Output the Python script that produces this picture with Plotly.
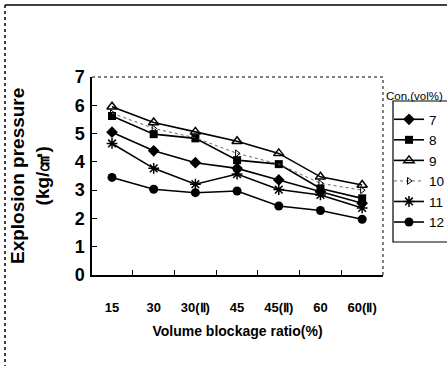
import plotly.graph_objects as go

categories = ["15", "30", "30(Ⅱ)", "45", "45(Ⅱ)", "60", "60(Ⅱ)"]
series_names = ["7", "8", "9", "10", "11", "12"]
s7 = [5.05, 4.39, 3.97, 3.77, 3.36, 2.94, 2.54]
s8 = [5.62, 4.98, 4.83, 4.06, 3.92, 3.06, 2.71]
s9 = [5.95, 5.39, 5.06, 4.73, 4.30, 3.47, 3.18]
s10 = [5.72, 5.18, 4.85, 4.30, 3.92, 3.24, 3.00]
s11 = [4.65, 3.77, 3.21, 3.57, 3.02, 2.83, 2.37]
s12 = [3.45, 3.03, 2.91, 2.97, 2.44, 2.28, 1.97]
y_ticks = [0, 1, 2, 3, 4, 5, 6, 7]

W, H = 447, 366
L, R, T, B = 92, 64, 77, 91
pw, ph = W - L - R, H - T - B

def px(x):
    return (x - L) / pw

def py(y):
    return (H - B - y) / ph

styles = [
    dict(symbol="diamond", size=9, line=dict(width=0)),
    dict(symbol="square", size=8, line=dict(width=0)),
    dict(symbol="triangle-up-open", size=9, line=dict(width=1.5, color="black")),
    dict(symbol="triangle-right-open", size=6, line=dict(width=1, color="#555")),
    dict(symbol="asterisk-open", size=9, line=dict(width=1.5, color="black")),
    dict(symbol="circle", size=9, line=dict(width=0)),
]
data = [s7, s8, s9, s10, s11, s12]

fig = go.Figure()
for name, vals, st in zip(series_names, data, styles):
    dotted = name == "10"
    fig.add_trace(go.Scatter(
        x=categories, y=vals, name=name, mode="lines+markers",
        line=dict(color="#666" if dotted else "black", width=1 if dotted else 1.6,
                  dash="dot" if dotted else "solid"),
        marker=dict(color="black", **st),
    ))

font_main = "Arial, Liberation Sans, sans-serif"

fig.update_layout(
    width=W, height=H,
    margin=dict(l=L, r=R, t=T, b=B, pad=0, autoexpand=False),
    paper_bgcolor="white", plot_bgcolor="white",
    showlegend=True,
    legend=dict(x=px(389), y=py(104), xanchor="left", yanchor="top",
                bgcolor="rgba(0,0,0,0)", borderwidth=0,
                font=dict(family=font_main, size=13.5, color="black"),
                tracegroupgap=0, itemwidth=30),
    xaxis=dict(
        type="category", range=[-0.48, 6.5], showgrid=False, zeroline=False,
        showline=True, linecolor="black", linewidth=1.5,
        ticks="inside", ticklen=5, tickcolor="black", tickson="boundaries",
        ticklabelstandoff=20, tickangle=0,
        tickfont=dict(family=font_main, size=13, color="black", weight="bold"),
        title=dict(text="Volume blockage ratio(%)", standoff=12,
                   font=dict(family=font_main, size=14, color="black", weight="bold")),
    ),
    yaxis=dict(
        range=[0, 7], tickvals=y_ticks, showgrid=False, zeroline=False,
        showline=True, linecolor="black", linewidth=1.5,
        ticks="inside", ticklen=5, tickcolor="black", ticklabelstandoff=2,
        tickfont=dict(family=font_main, size=18, color="black", weight="bold"),
    ),
)

fig.add_annotation(
    text="Explosion pressure<br>(kg/㎠)", textangle=-90, showarrow=False,
    xref="paper", yref="paper", x=px(30), y=0.5, xanchor="center", yanchor="middle",
    font=dict(family=font_main, size=19, color="black", weight="bold"),
)
fig.add_annotation(
    text="Con.(vol%)", showarrow=False, xref="paper", yref="paper",
    x=px(384), y=py(96), xanchor="left", yanchor="middle",
    font=dict(family=font_main, size=11.5, color="black"),
)

# plot frame: dotted top and right
fig.add_shape(type="line", xref="paper", yref="paper", x0=0, x1=1, y0=1, y1=1,
              line=dict(color="black", width=1, dash="dot"))
fig.add_shape(type="line", xref="paper", yref="paper", x0=1, x1=1, y0=0, y1=1,
              line=dict(color="black", width=1, dash="dot"))
# legend box
fig.add_shape(type="rect", xref="paper", yref="paper", x0=px(393), x1=px(452),
              y0=py(242), y1=py(101), line=dict(color="black", width=1.2))
# outer page frame
fig.add_shape(type="line", xref="paper", yref="paper", x0=px(5), x1=px(450),
              y0=py(5), y1=py(5), line=dict(color="black", width=1.5))
fig.add_shape(type="line", xref="paper", yref="paper", x0=px(5), x1=px(5),
              y0=py(5), y1=py(370), line=dict(color="black", width=1.5, dash="dot"))

fig.write_html("out.html")
